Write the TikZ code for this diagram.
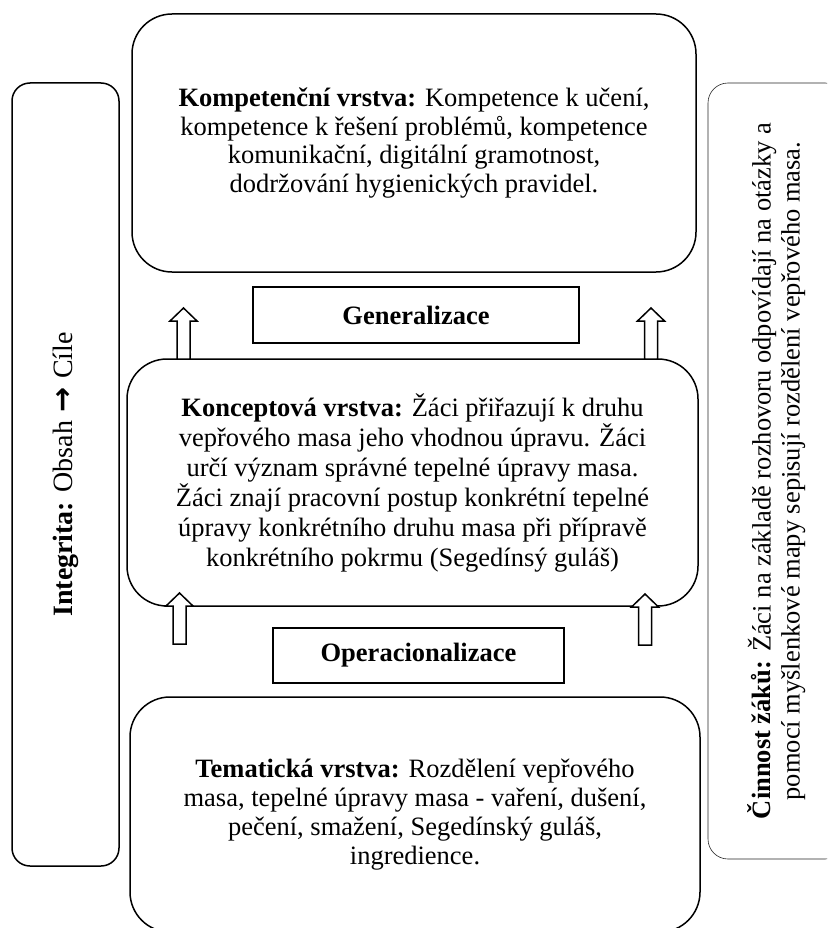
\documentclass[tikz,border=0pt]{standalone}
\usepackage{fontspec}
\setmainfont{Liberation Serif}
\newfontfamily\arrowfont{DejaVu Sans}
\begin{document}
\begin{tikzpicture}[x=1pt,y=-1pt,
  layerbox/.style={draw, line width=1.5pt, rounded corners=40pt, align=center, inner sep=0pt},
  labelbox/.style={draw, line width=1.5pt, inner sep=0pt, font=\bfseries},
  sidebox/.style={draw, rotate=90, rounded corners=20pt, align=center, inner sep=0pt},
  uparrow/.pic={\draw[fill=white, line width=1.5pt, line join=miter]
     (-6.5,0) -- (-6.5,-38) -- (-13.5,-38) -- (0,-51) -- (13.5,-38) -- (6.5,-38) -- (6.5,0) -- cycle;}
]
\useasboundingbox (0,0) rectangle (827,928);
\clip (0,0) rectangle (827,928);
\fontsize{26.5}{28.5}\selectfont

\node[layerbox, minimum width=564pt, minimum height=258pt] (top) at (414,143)
  {\textbf{Kompetenční vrstva:} Kompetence k učení,\\
   kompetence k řešení problémů, kompetence\\
   komunikační, digitální gramotnost,\\
   dodržování hygienických pravidel.};

\node[labelbox, minimum width=326pt, minimum height=56pt] (gen) at (416,315) {Generalizace};

\node[layerbox, minimum width=571pt, minimum height=247pt, font=\fontsize{26.5}{30}\selectfont] (mid) at (412.5,482.5)
  {\textbf{Konceptová vrstva:} Žáci přiřazují k druhu\\
   vepřového masa jeho vhodnou úpravu. Žáci\\
   určí význam správné tepelné úpravy masa.\\
   Žáci znají pracovní postup konkrétní tepelné\\
   úpravy konkrétního druhu masa při přípravě\\
   konkrétního pokrmu (Segedínsý guláš)};

\node[labelbox, minimum width=291pt, minimum height=55pt] (op) at (418.5,655.5) {Operacionalizace};

\node[layerbox, minimum width=570pt, minimum height=235pt, font=\fontsize{26.5}{29}\selectfont] (bot) at (415,814.5)
  {\textbf{Tematická vrstva:} Rozdělení vepřového\\
   masa, tepelné úpravy masa - vaření, dušení,\\
   pečení, smažení, Segedínský guláš,\\
   ingredience.};

\node[sidebox, line width=1.5pt, rounded corners=18pt, minimum width=783pt, minimum height=107pt, font=\fontsize{28}{30}\selectfont] (left) at (65.5,474.5)
  {\textbf{Integrita:} Obsah\hspace{0.3em}{\arrowfont\bfseries\fontsize{30}{30}\selectfont →}\hspace{0.3em}Cíle};

\node[sidebox, line width=0.6pt, draw=black!85, minimum width=776pt, minimum height=137pt, font=\fontsize{26.5}{29}\selectfont] (right) at (776.5,471)
  {\textbf{Činnost žáků:} Žáci na základě rozhovoru odpovídají na otázky a\\
   pomocí myšlenkové mapy sepisují rozdělení vepřového masa.};

\pic at (183.5,359) {uparrow};
\pic at (651,359) {uparrow};
\pic at (179.5,644) {uparrow};
\pic at (645,645) {uparrow};
\end{tikzpicture}
\end{document}
